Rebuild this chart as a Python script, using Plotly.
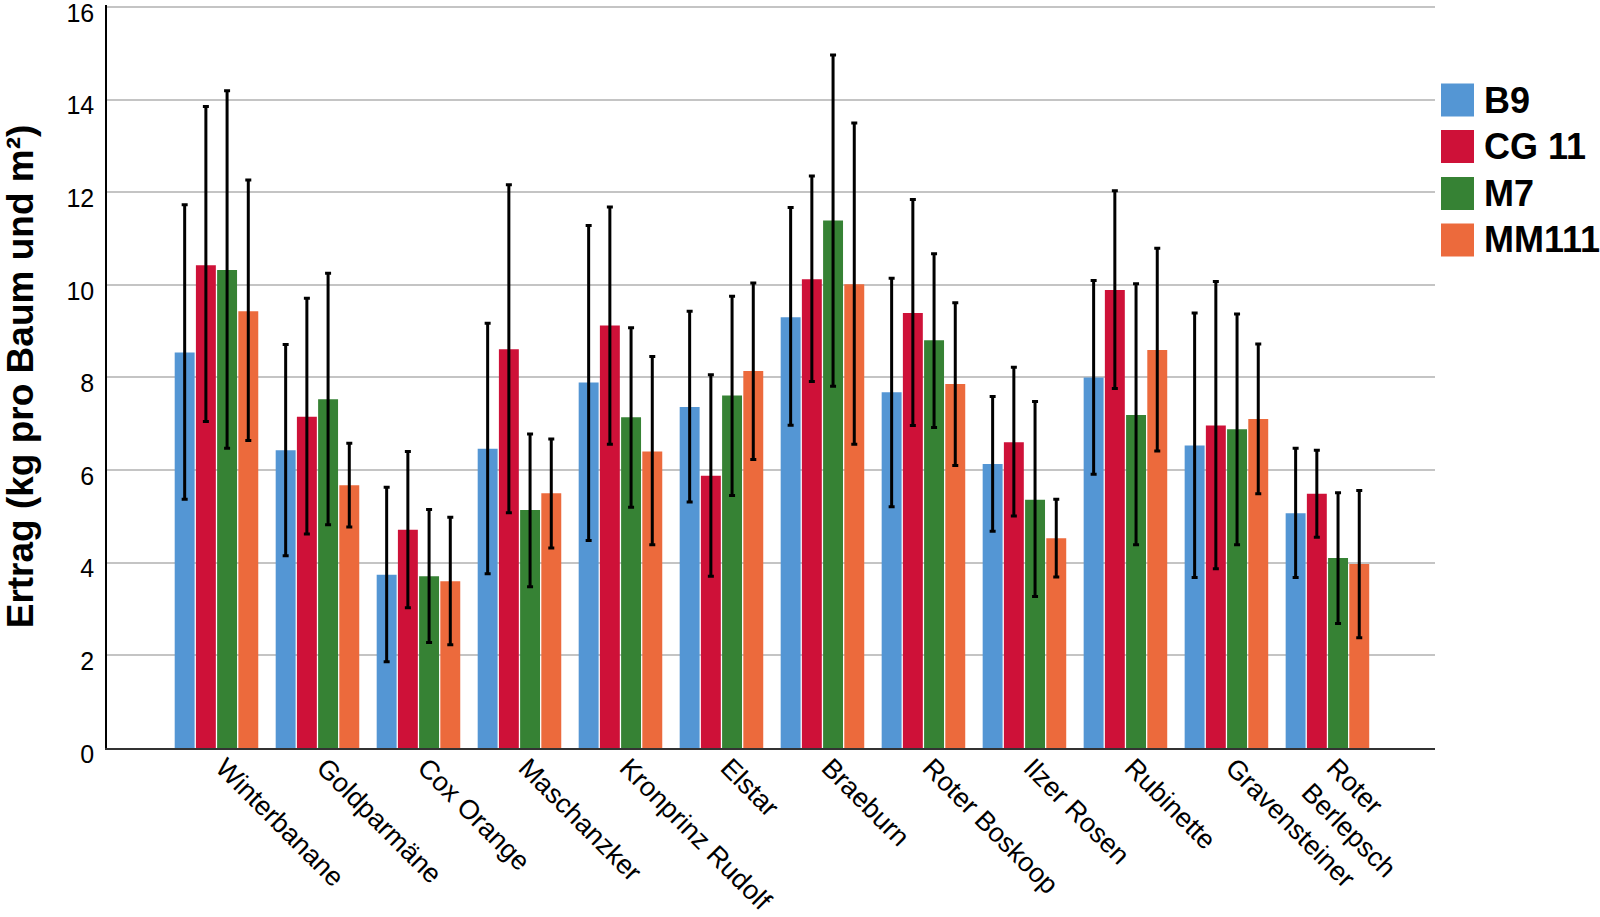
import plotly.graph_objects as go

categories = ["Winterbanane", "Goldparmäne", "Cox Orange", "Maschanzker",
              "Kronprinz Rudolf", "Elstar", "Braeburn", "Roter Boskoop",
              "Ilzer Rosen", "Rubinette", "Gravensteiner", "Roter<br>Berlepsch"]

series_names = ["B9", "CG 11", "M7", "MM111"]
series_colors = ["#5496D4", "#CE1138", "#368234", "#EC6A3C"]

b9_mean = [8.54, 6.43, 3.74, 6.46, 7.89, 7.36, 9.30, 7.68, 6.13, 8.00, 6.53, 5.07]
b9_upper = [11.73, 8.71, 5.63, 9.17, 11.28, 9.43, 11.67, 10.14, 7.59, 10.09, 9.39, 6.47]
b9_lower = [5.37, 4.15, 1.86, 3.76, 4.48, 5.31, 6.97, 5.21, 4.68, 5.91, 3.68, 3.68]

cg11_mean = [10.42, 7.15, 4.71, 8.61, 9.12, 5.88, 10.12, 9.39, 6.60, 9.89, 6.96, 5.49]
cg11_upper = [13.85, 9.71, 6.40, 12.16, 11.68, 8.06, 12.35, 11.84, 8.22, 12.03, 10.07, 6.43]
cg11_lower = [7.05, 4.62, 3.03, 5.08, 6.56, 3.71, 7.91, 6.96, 5.01, 7.76, 3.87, 4.55]

m7_mean = [10.32, 7.53, 3.71, 5.14, 7.14, 7.61, 11.39, 8.80, 5.36, 7.19, 6.88, 4.10]
m7_upper = [14.19, 10.25, 5.15, 6.78, 9.07, 9.75, 14.96, 10.67, 7.48, 10.02, 9.37, 5.51]
m7_lower = [6.47, 4.82, 2.28, 3.48, 5.20, 5.45, 7.81, 6.92, 3.27, 4.39, 4.39, 2.69]

mm111_mean = [9.43, 5.67, 3.60, 5.50, 6.40, 8.14, 10.01, 7.86, 4.53, 8.59, 7.10, 3.97]
mm111_upper = [12.26, 6.58, 4.98, 6.67, 8.45, 10.04, 13.49, 9.61, 5.37, 10.79, 8.72, 5.56]
mm111_lower = [6.64, 4.77, 2.23, 4.32, 4.39, 6.23, 6.56, 6.10, 3.69, 6.41, 5.49, 2.38]

y_ticks = [0, 2, 4, 6, 8, 10, 12, 14, 16]
y_title = "Ertrag (kg pro Baum und m²)"

means = [b9_mean, cg11_mean, m7_mean, mm111_mean]
uppers = [b9_upper, cg11_upper, m7_upper, mm111_upper]
lowers = [b9_lower, cg11_lower, m7_lower, mm111_lower]

FONT = "Liberation Sans, Arial, sans-serif"
W, H = 1600, 917
ML, MR, MT, MB = 107, 165, 5, 169
PW, PH = W - ML - MR, H - MT - MB

fig = go.Figure()
for name, color, m, up, lo in zip(series_names, series_colors, means, uppers, lowers):
    fig.add_trace(go.Bar(
        x=categories, y=m, name=name,
        marker=dict(color=color, line=dict(width=0)),
        error_y=dict(type="data", symmetric=False,
                     array=[u - v for u, v in zip(up, m)],
                     arrayminus=[v - l for v, l in zip(m, lo)],
                     color="black", thickness=3, width=3),
        showlegend=False,
        hoverinfo="skip",
    ))

# custom legend (large square swatches)
sq = 33
x0_px, text_px = 1441, 1482
y_centers_px = [100, 146.5, 193.5, 240]
shapes = []
annotations = []
for name, color, yc in zip(series_names, series_colors, y_centers_px):
    shapes.append(dict(type="rect", xref="paper", yref="paper",
                       x0=(x0_px - ML) / PW, x1=(x0_px + sq - ML) / PW,
                       y0=(H - MB - (yc + sq / 2)) / PH, y1=(H - MB - (yc - sq / 2)) / PH,
                       fillcolor=color, line=dict(width=0)))
    annotations.append(dict(xref="paper", yref="paper",
                            x=(text_px - ML) / PW, y=(H - MB - yc) / PH,
                            xanchor="left", yanchor="middle", showarrow=False,
                            text="<b>%s</b>" % name,
                            font=dict(family=FONT, size=36, color="black")))

fig.update_layout(
    width=W, height=H,
    margin=dict(l=ML, r=MR, t=MT, b=MB, autoexpand=False),
    paper_bgcolor="white", plot_bgcolor="white",
    barmode="group", bargap=0.16, bargroupgap=0.06,
    font=dict(family=FONT, color="black"),
    shapes=shapes, annotations=annotations,
    xaxis=dict(range=[-1.084, 12.065], tickangle=45,
               tickfont=dict(size=27, family=FONT, color="black"),
               ticklabelstandoff=-9, ticklabelshift=7,
               ticklabeloverflow="allow",
               showline=True, linecolor="#333333", linewidth=2,
               showgrid=False, ticks="", zeroline=False),
    yaxis=dict(range=[0, 16.04], tickvals=y_ticks,
               tickfont=dict(size=25, family=FONT, color="black"),
               ticklabelshift=6, ticklabeloverflow="allow",
               showline=True, linecolor="black", linewidth=1.5,
               showgrid=True, gridcolor="#C4C4C4", gridwidth=1.5,
               zeroline=False, ticks="outside", ticklen=6, tickcolor="rgba(0,0,0,0)",
               title=dict(text="<b>%s</b>" % y_title,
                          font=dict(size=37, family=FONT, color="black"),
                          standoff=24)),
)

fig.write_html("out.html", config={"displayModeBar": False},
               post_script="document.body.style.margin='0';")
